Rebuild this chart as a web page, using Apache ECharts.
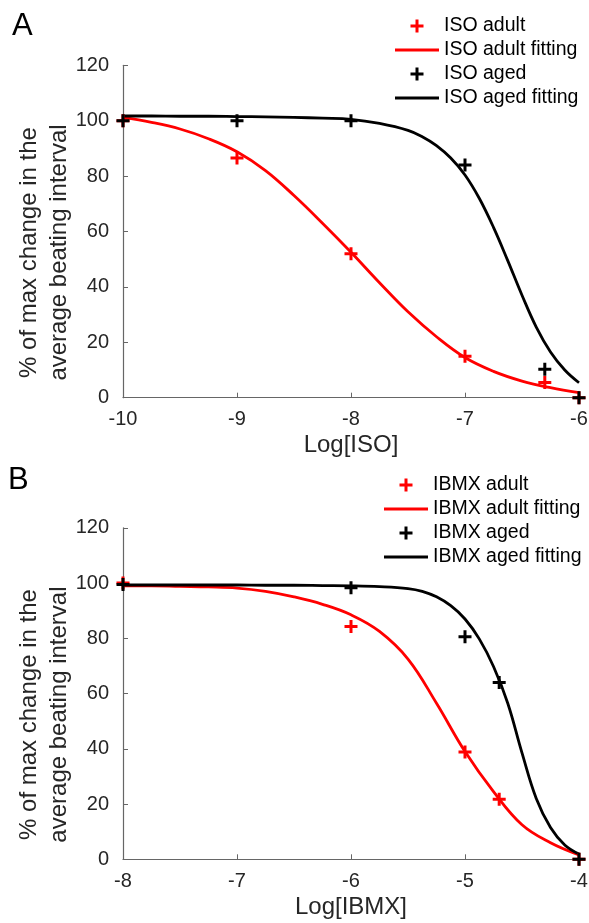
<!DOCTYPE html>
<html>
<head>
<meta charset="utf-8">
<script src="https://cdn.jsdelivr.net/npm/echarts/dist/echarts.min.js"></script>
<style>
  html, body { margin: 0; padding: 0; background: #fff; }
  #main { width: 589px; height: 923px; }
</style>
</head>
<body>
<div id="main"></div>
<script>
// measured points (log concentration, % of max change)
const isoX = [-10, -9, -8, -7, -6.3, -6];
const isoAdult = [100, 86.5, 52, 15, 5.5, 0];
const isoAged = [100, 100, 100, 84, 10.3, 0];

const ibmxX = [-8, -6, -5, -4.7, -4];
const ibmxAdult = [100, 84.3, 38.8, 21.7, 0];
const ibmxAged = [99.5, 98.3, 80.6, 64, 0];

// fitted curves
const isoAdultFitX = [-10, -9.75, -9.5, -9.25, -9, -8.75, -8.5, -8.25, -8, -7.75, -7.5, -7.25, -7, -6.75, -6.5, -6.25, -6];
const isoAdultFit = [101.2, 99.4, 97, 93.5, 88.8, 82, 73, 63, 52.5, 41.5, 31, 22, 14.5, 9.5, 6, 3.6, 1.8];
const isoAgedFitX = [-10, -9.75, -9.5, -9.25, -9, -8.75, -8.5, -8.25, -8, -7.75, -7.5, -7.375, -7.25, -7.125, -7, -6.875, -6.75, -6.625, -6.5, -6.375, -6.25, -6.125, -6];
const isoAgedFit = [101.7, 101.7, 101.6, 101.6, 101.5, 101.4, 101.2, 100.9, 100.5, 99, 96.5, 94.2, 91, 86.5, 80.4, 72, 61.5, 49.5, 37, 25.5, 16.5, 10, 5.4];

const ibmxAdultFitX = [-8, -7.75, -7.5, -7.25, -7, -6.75, -6.5, -6.25, -6, -5.75, -5.5, -5.25, -5, -4.75, -4.5, -4.25, -4];
const ibmxAdultFit = [99, 99, 98.8, 98.6, 98.2, 97, 95, 92.3, 88.5, 82.5, 72.5, 56.5, 39, 24.5, 12.5, 6, 1.6];
const ibmxAgedFitX = [-8, -7.75, -7.5, -7.25, -7, -6.75, -6.5, -6.25, -6, -5.75, -5.5, -5.375, -5.25, -5.125, -5, -4.875, -4.75, -4.625, -4.5, -4.375, -4.25, -4.125, -4];
const ibmxAgedFit = [99.3, 99.3, 99.3, 99.3, 99.3, 99.2, 99.2, 99.1, 99, 98.7, 98, 97, 95, 91.8, 87, 79.8, 69.8, 56.5, 38.5, 22, 11.5, 5.2, 1.9];

const yTicks = [0, 120, 20];
const yTitle = '% of max change in the\naverage beating interval';

const plus = 'path://M5,0H8V5H13V8H8V13H5V8H0V5H5Z';
const bar = 'path://M0,0H44V2.8H0Z';
const zip = (xs, ys) => xs.map((x, i) => [x, ys[i]]);

const tickColor = '#262626';
const lineColor = '#666';

function xAxis(idx, min, max, name) {
  return {
    gridIndex: idx, type: 'value', min: min, max: max, interval: 1,
    name: name, nameLocation: 'middle', nameGap: 36, nameMoveOverlap: false,
    nameTextStyle: {fontSize: 24, color: tickColor},
    axisLine: {lineStyle: {color: lineColor, width: 1.2}},
    axisTick: {inside: true, length: 5, lineStyle: {color: lineColor}},
    axisLabel: {fontSize: 20, color: tickColor, margin: 12},
    splitLine: {show: false}
  };
}

function yAxis(idx) {
  return {
    gridIndex: idx, type: 'value', min: yTicks[0], max: yTicks[1], interval: yTicks[2],
    name: yTitle, nameLocation: 'middle', nameGap: 49, nameMoveOverlap: false,
    nameTextStyle: {fontSize: 24, lineHeight: 30, color: tickColor, padding: [0, 42, 0, 0]},
    axisLine: {show: true, lineStyle: {color: lineColor, width: 1.2}},
    axisTick: {show: true, inside: true, length: 5, lineStyle: {color: lineColor}},
    axisLabel: {fontSize: 20, color: tickColor, margin: 14},
    splitLine: {show: false}
  };
}

function points(name, idx, xs, ys, color) {
  return {
    name: name, type: 'scatter', xAxisIndex: idx, yAxisIndex: idx,
    data: zip(xs, ys), symbol: plus, symbolSize: 13,
    itemStyle: {color: color, opacity: 1}, z: 3
  };
}

function fit(name, idx, xs, ys, color) {
  return {
    name: name, type: 'line', xAxisIndex: idx, yAxisIndex: idx,
    data: zip(xs, ys), smooth: 0.4, symbol: 'none', showSymbol: false,
    lineStyle: {color: color, width: 2.8}, itemStyle: {color: color}, z: 2
  };
}

function legend(left, top, names) {
  return {
    left: left, top: top, orient: 'vertical', padding: 0,
    itemWidth: 44, itemHeight: 13, itemGap: 4, selectedMode: false,
    data: names.map((n, i) => i % 2 ? {name: n, icon: bar} : {name: n}),
    textStyle: {fontSize: 19.5, color: '#000'}
  };
}

const chart = echarts.init(document.getElementById('main'));
chart.setOption({
  animation: false,
  textStyle: {fontFamily: 'Liberation Sans, Arial, sans-serif'},
  title: [
    {text: 'A', left: 12, top: 11, padding: 0, textStyle: {fontSize: 31, fontWeight: 'normal', color: '#000'}},
    {text: 'B', left: 8, top: 465, padding: 0, textStyle: {fontSize: 31, fontWeight: 'normal', color: '#000'}}
  ],
  legend: [
    legend(395, 16, ['ISO adult', 'ISO adult fitting', 'ISO aged', 'ISO aged fitting']),
    legend(384, 475, ['IBMX adult', 'IBMX adult fitting', 'IBMX aged', 'IBMX aged fitting'])
  ],
  grid: [
    {left: 123, right: 10, top: 65.3, height: 332.4, outerBoundsMode: 'none'},
    {left: 123, right: 10, top: 527.8, height: 331.5, outerBoundsMode: 'none'}
  ],
  xAxis: [xAxis(0, -10, -6, 'Log[ISO]'), xAxis(1, -8, -4, 'Log[IBMX]')],
  yAxis: [yAxis(0), yAxis(1)],
  series: [
    fit('ISO adult fitting', 0, isoAdultFitX, isoAdultFit, '#ff0000'),
    fit('ISO aged fitting', 0, isoAgedFitX, isoAgedFit, '#000000'),
    points('ISO adult', 0, isoX, isoAdult, '#ff0000'),
    points('ISO aged', 0, isoX, isoAged, '#000000'),
    fit('IBMX adult fitting', 1, ibmxAdultFitX, ibmxAdultFit, '#ff0000'),
    fit('IBMX aged fitting', 1, ibmxAgedFitX, ibmxAgedFit, '#000000'),
    points('IBMX adult', 1, ibmxX, ibmxAdult, '#ff0000'),
    points('IBMX aged', 1, ibmxX, ibmxAged, '#000000')
  ]
});
</script>
</body>
</html>
